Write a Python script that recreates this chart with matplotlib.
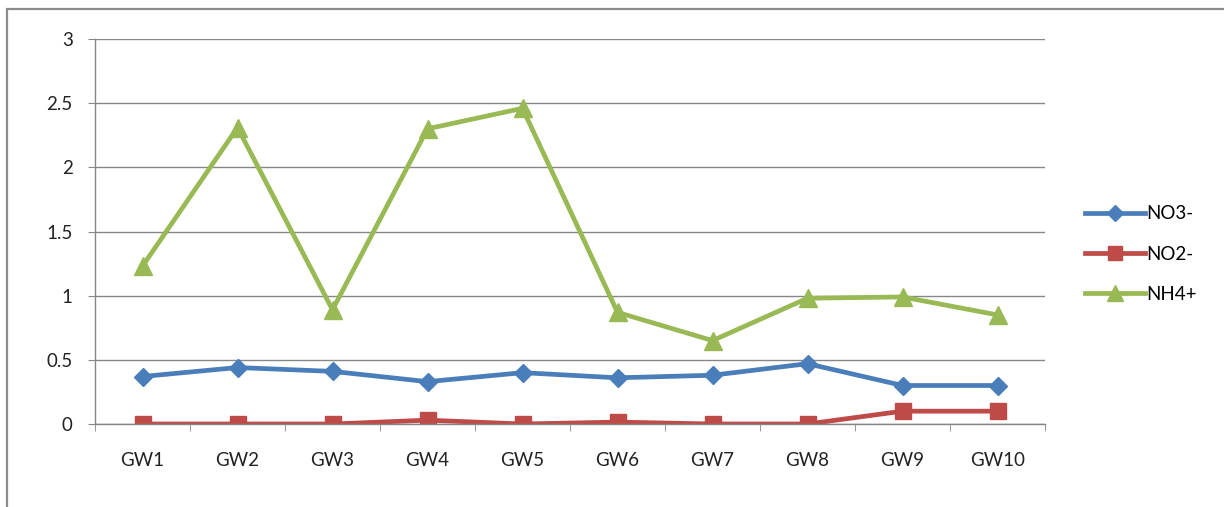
import matplotlib
matplotlib.use("Agg")
import matplotlib.pyplot as plt
from matplotlib.patches import Rectangle
import numpy as np

plt.rcParams['font.family'] = ['Lato', 'DejaVu Sans']

wells = ["GW1", "GW2", "GW3", "GW4", "GW5", "GW6", "GW7", "GW8", "GW9", "GW10"]
no3 = [0.37, 0.44, 0.41, 0.33, 0.40, 0.36, 0.38, 0.47, 0.30, 0.30]
no2 = [0.0, 0.0, 0.0, 0.03, 0.0, 0.015, 0.0, 0.0, 0.10, 0.10]
nh4 = [1.23, 2.31, 0.89, 2.30, 2.46, 0.87, 0.65, 0.98, 0.99, 0.85]

fig = plt.figure(figsize=(12.24, 5.07), dpi=100)
ax = fig.add_axes([95 / 1224, 1 - 424 / 507, 950 / 1224, 385 / 507])

# outer chart frame (runs off the right and bottom edges)
fig.patches.append(Rectangle((7 / 1224, -0.05), 1.1, 1.05 - 9 / 507,
                             transform=fig.transFigure, fill=False,
                             edgecolor="#8c8c8c", linewidth=1.6))

x = np.arange(len(wells))
ax.plot(x, no3, color="#4A7EBB", lw=3.4, marker="D", ms=9, label="NO3-")
ax.plot(x, no2, color="#BE4B48", lw=3.4, marker="s", ms=12, label="NO2-")
ax.plot(x, nh4, color="#98B954", lw=3.4, marker="^", ms=13, label="NH4+")

ax.set_xlim(-0.5, len(wells) - 0.5)
ax.set_ylim(0, 3)
ax.set_yticks([0, 0.5, 1, 1.5, 2, 2.5, 3])
ax.set_yticklabels(["0", "0.5", "1", "1.5", "2", "2.5", "3"])
ax.set_xticks(x)
ax.set_xticklabels(wells)
ax.set_xticks(np.arange(-0.5, len(wells)), minor=True)

ax.tick_params(axis="x", which="major", length=0, pad=20, labelsize=13.5, labelcolor="#222222")
ax.tick_params(axis="x", which="minor", length=5, direction="out", color="#868686")
ax.tick_params(axis="y", length=5, direction="out", color="#868686", pad=11,
               labelsize=13.5, labelcolor="#222222")

ax.grid(axis="y", color="#868686", linewidth=1)
ax.set_axisbelow(True)
for side in ["top", "right"]:
    ax.spines[side].set_visible(False)
for side in ["left", "bottom"]:
    ax.spines[side].set_color("#868686")
    ax.spines[side].set_linewidth(1)

# legend with smaller markers, as in the chart's side key
fig.legend(loc="center left", bbox_to_anchor=(1085 / 1224, 1 - 254 / 507),
           frameon=False, fontsize=13.5, handlelength=3.2, handletextpad=0.05,
           labelspacing=1.25, borderpad=0, borderaxespad=0, markerscale=0.85)

fig.savefig("out.png", dpi=100)
